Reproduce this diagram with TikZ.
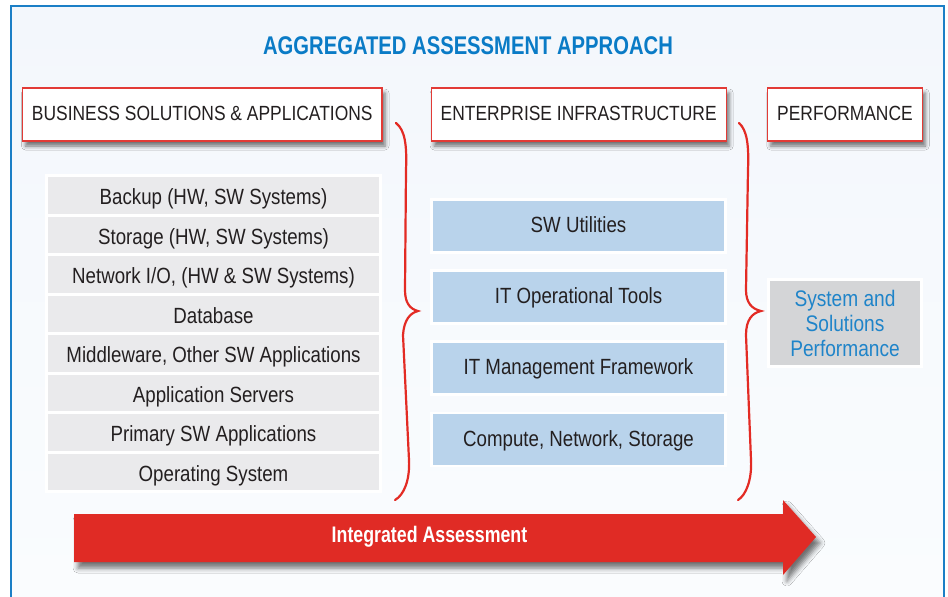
\documentclass[tikz,border=0pt]{standalone}
\usepackage{fontspec}
\setmainfont[FakeStretch=0.85]{Liberation Sans}
\newfontfamily\condbold[FakeStretch=0.79]{Liberation Sans}
\usetikzlibrary{shadows.blur}
\definecolor{frameblue}{HTML}{1B7FC6}
\definecolor{titleblue}{HTML}{0A7BC6}
\definecolor{bgtop}{HTML}{F3F7FC}
\definecolor{bgmid}{HTML}{D9E6F4}
\definecolor{bgbot}{HTML}{FAFCFE}
\definecolor{hdred}{HTML}{E23B36}
\definecolor{bracered}{HTML}{E32B24}
\definecolor{arrowred}{HTML}{E02B25}
\definecolor{rowgray}{HTML}{EAEAEC}
\definecolor{midblue}{HTML}{B9D3EB}
\definecolor{perfgray}{HTML}{D4D5D7}
\definecolor{perftext}{HTML}{1F84C9}
\definecolor{txt}{HTML}{231F20}
\tikzset{
  hdrbox/.style={draw=hdred, line width=1.3pt, fill=white, minimum height=53pt,
    inner sep=0pt, text=txt, font=\fontsize{20.5}{24}\selectfont,
    text height=12.4pt, text depth=0pt,
    blur shadow={shadow xshift=3pt, shadow yshift=-5pt, shadow blur radius=4pt, shadow opacity=55}},
  rowbox/.style={draw=white, line width=3pt, fill=rowgray, minimum width=334pt,
    minimum height=39.5pt, inner sep=0pt, text=txt, font=\fontsize{22}{26}\selectfont,
    text height=19pt, text depth=0pt},
  midbox/.style={draw=white, line width=2.6pt, fill=midblue, minimum width=294.5pt,
    minimum height=53pt, inner sep=0pt, text=txt, font=\fontsize{22}{26}\selectfont,
    text height=13.4pt, text depth=0pt},
  perfbox/.style={draw=white, line width=3pt, fill=perfgray, minimum width=153pt,
    minimum height=87.5pt, inner sep=0pt, text=perftext, align=center,
    font=\fontsize{22.5}{25.2}\selectfont},
  bracestyle/.style={draw=bracered, line width=2.2pt, line cap=round},
}
\begin{document}
\begin{tikzpicture}[x=1pt,y=-1pt]
\useasboundingbox (0,0) rectangle (948,597);
\fill[white] (0,0) rectangle (948,597);
% background
\shade[top color=bgtop, middle color=bgmid, bottom color=bgbot] (11,6) rectangle (944,597);
\draw[frameblue, line width=2.6pt] (11,597) -- (11,6) -- (944,6) -- (944,597);
% title
\node[text=titleblue, font=\condbold\bfseries\fontsize{25.6}{30}\selectfont] (title) at (468,46) {AGGREGATED ASSESSMENT APPROACH};
% headers
\node[hdrbox, minimum width=359.5pt] (bsa) at (202.25,114.5) {BUSINESS SOLUTIONS \& APPLICATIONS};
\node[hdrbox, minimum width=295pt] (ei) at (578.7,114.5) {ENTERPRISE INFRASTRUCTURE};
\node[hdrbox, minimum width=154.5pt] (perf) at (845,114.5) {PERFORMANCE};
% left stack
\node[rowbox] (r1) at (213.5,195.25) {Backup (HW, SW Systems)};
\node[rowbox] (r2) at (213.5,234.75) {Storage (HW, SW Systems)};
\node[rowbox] (r3) at (213.5,274.25) {Network I/O, (HW \& SW Systems)};
\node[rowbox] (r4) at (213.5,313.75) {Database};
\node[rowbox] (r5) at (213.5,353.25) {Middleware, Other SW Applications};
\node[rowbox] (r6) at (213.5,392.75) {Application Servers};
\node[rowbox] (r7) at (213.5,432.25) {Primary SW Applications};
\node[rowbox] (r8) at (213.5,471.75) {Operating System};
% middle boxes
\node[midbox] (m1) at (578.5,226) {SW Utilities};
\node[midbox] (m2) at (578.5,297.2) {IT Operational Tools};
\node[midbox] (m3) at (578.5,368.2) {IT Management Framework};
\node[midbox] (m4) at (578.5,439.5) {Compute, Network, Storage};
% performance box
\node[perfbox] (sp) at (845,323.2) {System and\\Solutions\\Performance};
% braces
\draw[bracestyle] (396,123) .. controls (405,130) and (407,145) .. (406,170)
  -- (405,290) .. controls (405,303) and (410,309) .. (418,311)
  .. controls (410,313) and (404,320) .. (403,335)
  -- (409,460) .. controls (410,480) and (404,495) .. (395,500);
\draw[bracestyle] (739,123) .. controls (747,130) and (749,145) .. (748,170)
  -- (746,290) .. controls (746,303) and (752,309) .. (761,311)
  .. controls (752,313) and (746,320) .. (746,335)
  -- (751,460) .. controls (752,480) and (746,495) .. (738,500);
% arrow
\path[fill=arrowred, blur shadow={shadow xshift=4pt, shadow yshift=-6pt, shadow blur radius=5pt, shadow opacity=55}]
  (74,514) -- (783,514) -- (783,500) -- (816,537) -- (783,575) -- (783,562) -- (74,562) -- cycle;
\node[text=white, font=\condbold\bfseries\fontsize{22.5}{26}\selectfont] (ia) at (429.5,537) {Integrated Assessment};
\end{tikzpicture}
\end{document}
